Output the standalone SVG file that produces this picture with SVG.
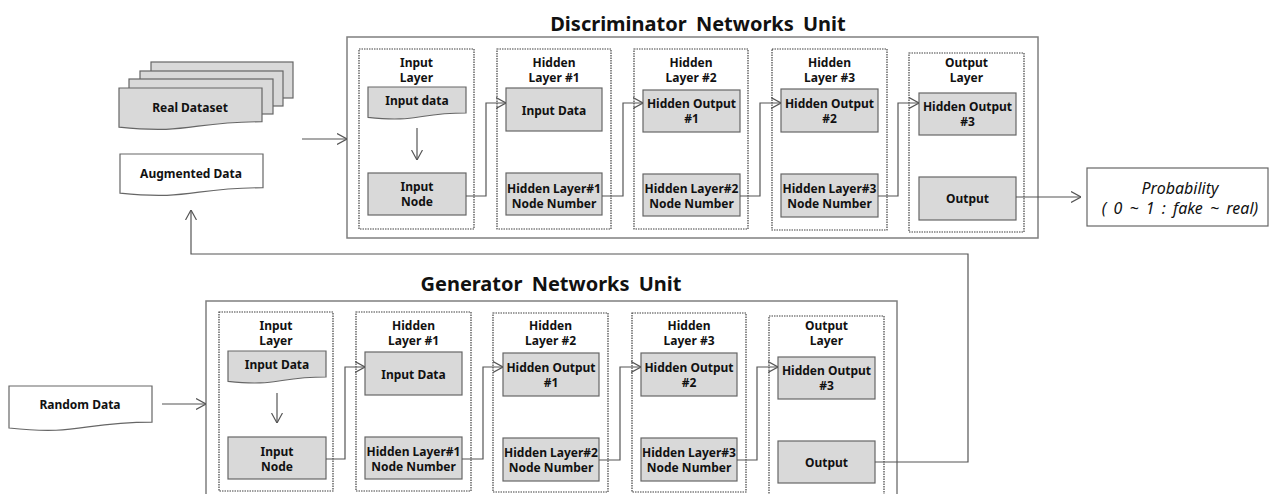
<svg xmlns="http://www.w3.org/2000/svg" width="1270" height="494" viewBox="0 0 1270 494">
<defs>
<style>
text{font-family:"Noto Sans","Open Sans","Liberation Sans",sans-serif;fill:#111;text-anchor:middle;dominant-baseline:central}
.title{font-size:20px;font-weight:bold;word-spacing:4px}
.lbl{font-size:12px;font-weight:bold}
.prob{font-size:16px;font-style:italic;font-weight:normal;word-spacing:3px}
.outer{fill:#fff;stroke:#7f7f7f;stroke-width:1.5}
.layer{fill:none;stroke:#404040;stroke-width:1.2;stroke-dasharray:1.5 1}
.box{fill:#d9d9d9;stroke:#666;stroke-width:1.2}
.doc{fill:#fff;stroke:#666;stroke-width:1.2}
.conn{fill:none;stroke:#555;stroke-width:1.2}
</style>
<marker id="arr" viewBox="0 0 10 12" refX="10" refY="6" markerWidth="10" markerHeight="12" markerUnits="userSpaceOnUse" orient="auto">
<path d="M0,0.5 L10,6 L0,11.5" fill="none" stroke="#555" stroke-width="1.2"/>
</marker>
</defs>
<rect width="1270" height="494" fill="#fff"/>

<!-- Discriminator -->
<g id="discriminator">
<text class="title" x="698" y="23">Discriminator Networks Unit</text>
<rect class="outer" x="347" y="37" width="691" height="201"/>
</g>
<g id="d-input-layer">
<rect class="layer" x="359" y="49" width="115" height="180"/>
<text class="lbl" x="416.5" y="62">Input</text>
<text class="lbl" x="416.5" y="77">Layer</text>
<path class="box" d="M368,87 H466 V113 C417,113 417,122.9 368,117.3 Z"/>
<text class="lbl" x="417" y="100">Input data</text>
<rect class="box" x="368" y="173" width="98" height="42"/>
<text class="lbl" x="417" y="186.5">Input</text>
<text class="lbl" x="417" y="201.5">Node</text>
</g>
<g id="d-hidden1">
<rect class="layer" x="497" y="49" width="114" height="180"/>
<text class="lbl" x="554" y="62">Hidden</text>
<text class="lbl" x="554" y="77">Layer #1</text>
<rect class="box" x="506" y="88" width="96" height="43"/>
<text class="lbl" x="554" y="110">Input Data</text>
<rect class="box" x="506" y="173" width="96" height="42"/>
<text class="lbl" x="554" y="188">Hidden Layer#1</text>
<text class="lbl" x="554" y="203">Node Number</text>
</g>
<g id="d-hidden2">
<rect class="layer" x="634" y="49" width="114" height="180"/>
<text class="lbl" x="691" y="62">Hidden</text>
<text class="lbl" x="691" y="77">Layer #2</text>
<rect class="box" x="643" y="90" width="97" height="42"/>
<text class="lbl" x="691.5" y="103.5">Hidden Output</text>
<text class="lbl" x="691.5" y="118.5">#1</text>
<rect class="box" x="643" y="174" width="97" height="42"/>
<text class="lbl" x="691.5" y="188">Hidden Layer#2</text>
<text class="lbl" x="691.5" y="203">Node Number</text>
</g>
<g id="d-hidden3">
<rect class="layer" x="772" y="49" width="115" height="181"/>
<text class="lbl" x="829.5" y="62">Hidden</text>
<text class="lbl" x="829.5" y="77">Layer #3</text>
<rect class="box" x="781" y="89" width="97" height="43"/>
<text class="lbl" x="829.5" y="103">Hidden Output</text>
<text class="lbl" x="829.5" y="118">#2</text>
<rect class="box" x="781" y="174" width="97" height="43"/>
<text class="lbl" x="829.5" y="188">Hidden Layer#3</text>
<text class="lbl" x="829.5" y="203">Node Number</text>
</g>
<g id="d-output-layer">
<rect class="layer" x="909" y="53" width="115" height="179"/>
<text class="lbl" x="966.5" y="62">Output</text>
<text class="lbl" x="966.5" y="77">Layer</text>
<rect class="box" x="919" y="93" width="97" height="42"/>
<text class="lbl" x="967.5" y="106.5">Hidden Output</text>
<text class="lbl" x="967.5" y="121.5">#3</text>
<rect class="box" x="919" y="177" width="97" height="43"/>
<text class="lbl" x="967.5" y="198.5">Output</text>
</g>

<!-- Left data -->
<g id="real-dataset">
<rect class="box" x="151" y="62" width="142" height="36"/>
<rect class="box" x="140" y="71" width="143" height="35"/>
<rect class="box" x="129" y="79" width="144" height="35"/>
<path class="box" d="M119,88 H262 V121.7 C190.5,121.7 190.5,134.5 119,127.2 Z"/>
<text class="lbl" x="190" y="107">Real Dataset</text>
</g>
<g id="augmented-data">
<path class="doc" d="M120,154 H263 V187.7 C191.5,187.7 191.5,200.5 120,193.2 Z"/>
<text class="lbl" x="191" y="173">Augmented Data</text>
</g>
<g id="probability">
<rect class="doc" x="1087" y="168" width="181" height="58"/>
<text class="prob" x="1180" y="188">Probability</text>
<text class="prob" x="1180" y="208">( 0 ~ 1 : fake ~ real)</text>
</g>
<g id="random-data">
<path class="doc" d="M9,386 H152 V422.1 C80.5,422.1 80.5,435.8 9,428 Z"/>
<text class="lbl" x="80" y="404">Random Data</text>
</g>

<!-- Generator -->
<g id="generator">
<text class="title" x="551" y="283">Generator Networks Unit</text>
<rect class="outer" x="206" y="301" width="691" height="205"/>
</g>
<g id="g-input-layer">
<rect class="layer" x="219" y="312" width="114" height="179"/>
<text class="lbl" x="276" y="325">Input</text>
<text class="lbl" x="276" y="340">Layer</text>
<path class="box" d="M228,351 H326 V377 C277,377 277,386.9 228,381.3 Z"/>
<text class="lbl" x="277" y="364">Input Data</text>
<rect class="box" x="228" y="437" width="98" height="42"/>
<text class="lbl" x="277" y="451">Input</text>
<text class="lbl" x="277" y="466">Node</text>
</g>
<g id="g-hidden1">
<rect class="layer" x="356" y="312" width="115" height="179"/>
<text class="lbl" x="413.5" y="325">Hidden</text>
<text class="lbl" x="413.5" y="340">Layer #1</text>
<rect class="box" x="365" y="352" width="97" height="43"/>
<text class="lbl" x="413.5" y="374">Input Data</text>
<rect class="box" x="365" y="437" width="97" height="42"/>
<text class="lbl" x="413.5" y="451">Hidden Layer#1</text>
<text class="lbl" x="413.5" y="466">Node Number</text>
</g>
<g id="g-hidden2">
<rect class="layer" x="493" y="313" width="115" height="179"/>
<text class="lbl" x="550.5" y="325">Hidden</text>
<text class="lbl" x="550.5" y="340">Layer #2</text>
<rect class="box" x="503" y="353" width="96" height="43"/>
<text class="lbl" x="551" y="367">Hidden Output</text>
<text class="lbl" x="551" y="382">#1</text>
<rect class="box" x="503" y="438" width="96" height="43"/>
<text class="lbl" x="551" y="452">Hidden Layer#2</text>
<text class="lbl" x="551" y="467">Node Number</text>
</g>
<g id="g-hidden3">
<rect class="layer" x="632" y="313" width="114" height="179"/>
<text class="lbl" x="689" y="325">Hidden</text>
<text class="lbl" x="689" y="340">Layer #3</text>
<rect class="box" x="641" y="353" width="96" height="43"/>
<text class="lbl" x="689" y="367">Hidden Output</text>
<text class="lbl" x="689" y="382">#2</text>
<rect class="box" x="641" y="438" width="96" height="43"/>
<text class="lbl" x="689" y="452">Hidden Layer#3</text>
<text class="lbl" x="689" y="467">Node Number</text>
</g>
<g id="g-output-layer">
<rect class="layer" x="769" y="316" width="115" height="180"/>
<text class="lbl" x="826.5" y="325">Output</text>
<text class="lbl" x="826.5" y="340">Layer</text>
<rect class="box" x="778" y="357" width="97" height="42"/>
<text class="lbl" x="826.5" y="370.5">Hidden Output</text>
<text class="lbl" x="826.5" y="385.5">#3</text>
<rect class="box" x="778" y="441" width="97" height="42"/>
<text class="lbl" x="826.5" y="462">Output</text>
</g>

<!-- Connectors -->
<g id="connectors">
<path class="conn" d="M302,139 H347" marker-end="url(#arr)"/>
<path class="conn" d="M417,128 V160" marker-end="url(#arr)"/>
<path class="conn" d="M466,196 H486 V103 H506" marker-end="url(#arr)"/>
<path class="conn" d="M602,196 H623 V103 H643" marker-end="url(#arr)"/>
<path class="conn" d="M740,196 H760 V103 H781" marker-end="url(#arr)"/>
<path class="conn" d="M878,196 H898 V103 H919" marker-end="url(#arr)"/>
<path class="conn" d="M1016,197 H1081" marker-end="url(#arr)"/>
<path class="conn" d="M162,404 H206" marker-end="url(#arr)"/>
<path class="conn" d="M277,393 V423" marker-end="url(#arr)"/>
<path class="conn" d="M326,459 H345 V367 H365" marker-end="url(#arr)"/>
<path class="conn" d="M462,459 H483 V367 H503" marker-end="url(#arr)"/>
<path class="conn" d="M599,460 H620 V367 H641" marker-end="url(#arr)"/>
<path class="conn" d="M737,460 H757 V367 H778" marker-end="url(#arr)"/>
<path class="conn" d="M875,462 H968 V254 H191 V210" marker-end="url(#arr)"/>
</g>
</svg>
